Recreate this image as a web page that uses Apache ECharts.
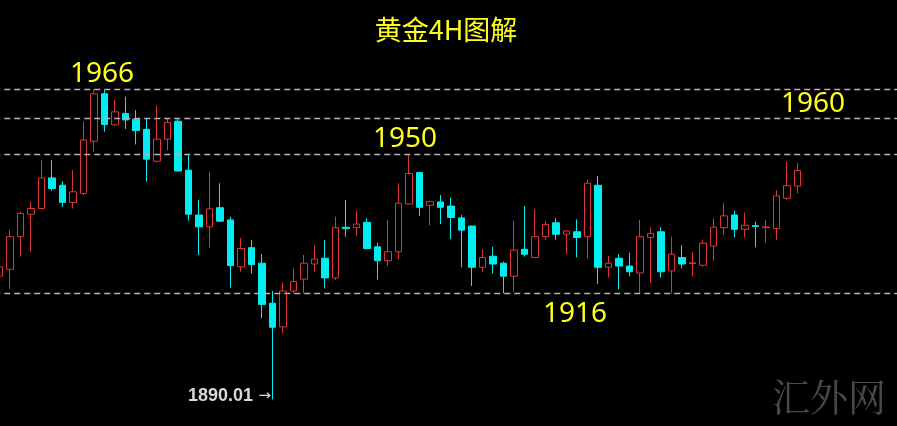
<!DOCTYPE html>
<html>
<head>
<meta charset="utf-8">
<script src="https://cdn.jsdelivr.net/npm/echarts@6/dist/echarts.min.js"></script>
<style>html,body{margin:0;padding:0;background:#000;}#c{width:897px;height:426px;}</style>
</head>
<body>
<div id="c"></div>
<script>
// 4H gold candles: [open, close, low, high]
const candles = [
  [1920.2, 1922.5, 1919.3, 1924.9],
  [1921.9, 1929.9, 1917.1, 1931.5],
  [1929.9, 1935.6, 1925.0, 1936.0],
  [1935.4, 1936.8, 1926.2, 1938.5],
  [1936.8, 1944.3, 1936.6, 1948.7],
  [1944.3, 1941.7, 1941.1, 1948.7],
  [1942.5, 1938.3, 1937.2, 1943.5],
  [1938.3, 1940.9, 1936.8, 1946.2],
  [1940.5, 1953.6, 1940.1, 1958.1],
  [1953.3, 1964.9, 1950.7, 1966.0],
  [1964.9, 1957.4, 1955.6, 1965.8],
  [1957.3, 1960.5, 1957.1, 1963.4],
  [1960.1, 1958.5, 1956.3, 1964.2],
  [1958.7, 1955.9, 1952.5, 1960.9],
  [1956.2, 1948.9, 1943.4, 1958.9],
  [1948.4, 1953.8, 1948.1, 1962.0],
  [1953.8, 1957.9, 1951.1, 1958.9],
  [1958.2, 1946.0, 1945.9, 1958.9],
  [1946.2, 1935.4, 1933.8, 1950.1],
  [1935.2, 1932.3, 1925.4, 1938.9],
  [1932.3, 1936.7, 1927.2, 1945.8],
  [1937.0, 1933.7, 1933.5, 1943.0],
  [1934.0, 1922.8, 1917.4, 1934.8],
  [1922.5, 1927.0, 1921.3, 1929.6],
  [1927.2, 1923.1, 1920.9, 1929.1],
  [1923.4, 1913.3, 1909.9, 1925.6],
  [1913.6, 1907.7, 1890.01, 1916.6],
  [1907.8, 1916.6, 1906.2, 1918.7],
  [1916.6, 1918.9, 1916.0, 1922.1],
  [1919.5, 1923.4, 1916.0, 1925.4],
  [1923.2, 1924.4, 1921.3, 1927.8],
  [1924.6, 1919.8, 1917.2, 1929.1],
  [1919.8, 1932.1, 1919.3, 1934.8],
  [1932.2, 1931.9, 1929.9, 1938.9],
  [1932.1, 1933.0, 1930.0, 1936.3],
  [1933.4, 1927.0, 1926.8, 1934.4],
  [1927.4, 1924.0, 1919.4, 1928.4],
  [1924.0, 1926.2, 1922.7, 1934.0],
  [1926.2, 1938.1, 1924.3, 1943.0],
  [1937.9, 1945.4, 1937.8, 1950.0],
  [1945.6, 1937.1, 1935.0, 1945.8],
  [1937.6, 1938.5, 1932.7, 1938.7],
  [1938.4, 1937.1, 1933.0, 1940.1],
  [1937.4, 1934.6, 1929.3, 1939.5],
  [1934.5, 1931.5, 1922.4, 1935.2],
  [1932.5, 1922.4, 1917.8, 1932.6],
  [1922.4, 1924.8, 1921.3, 1926.8],
  [1925.1, 1923.2, 1920.9, 1927.4],
  [1923.4, 1920.2, 1916.0, 1923.8],
  [1920.2, 1926.6, 1916.4, 1933.8],
  [1926.8, 1925.6, 1925.0, 1937.4],
  [1924.8, 1929.9, 1924.6, 1936.6],
  [1929.9, 1932.9, 1929.1, 1933.8],
  [1933.3, 1930.5, 1929.1, 1934.4],
  [1930.5, 1931.3, 1925.6, 1931.5],
  [1931.1, 1929.7, 1924.8, 1934.1],
  [1929.9, 1943.0, 1924.6, 1943.9],
  [1942.5, 1922.4, 1918.3, 1944.8],
  [1922.4, 1923.4, 1919.9, 1925.1],
  [1924.6, 1922.7, 1917.0, 1925.6],
  [1922.7, 1921.3, 1920.2, 1926.0],
  [1921.0, 1929.9, 1916.0, 1934.0],
  [1929.7, 1930.7, 1918.5, 1932.2],
  [1931.1, 1921.3, 1919.9, 1932.2],
  [1921.5, 1925.6, 1916.0, 1929.9],
  [1924.8, 1923.2, 1922.1, 1927.8],
  [1923.3, 1923.5, 1920.1, 1926.2],
  [1922.9, 1928.3, 1922.5, 1929.2],
  [1927.6, 1932.2, 1924.0, 1934.4],
  [1932.1, 1935.0, 1930.3, 1938.1],
  [1935.2, 1931.7, 1929.7, 1936.3],
  [1931.7, 1932.7, 1929.7, 1935.8],
  [1932.6, 1932.4, 1927.3, 1933.6],
  [1932.1, 1932.3, 1928.4, 1934.0],
  [1931.9, 1939.9, 1929.1, 1941.3],
  [1939.3, 1942.4, 1939.0, 1948.3],
  [1942.3, 1946.1, 1940.5, 1947.9]
];
// horizontal dashed levels (as drawn)
const levels = [1966.0, 1958.9, 1950.0, 1916.0];
// annotation texts
const titleText = '黄金4H图解';
const levelLabels = ['1966', '1950', '1960', '1916'];
const lowLabel = '1890.01';
const watermark = '汇外网';

// category slots (extra empty slots to the right edge)
const emptySlots = 9;
const categories = candles.map((_, i) => 'K' + (i + 1)).concat(new Array(emptySlots).fill(''));

const chart = echarts.init(document.getElementById('c'), null, {renderer: 'canvas'});
const yellow = '#ffff1a';
const labelFont = '28px "Noto Sans", "DejaVu Sans", sans-serif';
chart.setOption({
  backgroundColor: '#000',
  animation: false,
  grid: {left: -5.75, right: 0, top: 0, bottom: 0, containLabel: false, outerBoundsMode: 'none'},
  xAxis: {
    type: 'category', data: categories, boundaryGap: true,
    axisLine: {show: false}, axisTick: {show: false}, axisLabel: {show: false}, splitLine: {show: false}
  },
  yAxis: {
    type: 'value', min: 1883.5, max: 1987.9, scale: true,
    axisLine: {show: false}, axisTick: {show: false}, axisLabel: {show: false}, splitLine: {show: false}
  },
  series: [{
    type: 'candlestick',
    data: candles,
    barWidth: 7,
    clip: false,
    itemStyle: {
      color: '#000', color0: '#00eef2',
      borderColor: '#dd3535', borderColor0: '#00eef2', borderWidth: 1
    },
    markLine: {
      silent: true, symbol: 'none', animation: false,
      label: {show: false},
      lineStyle: {type: [6, 4], color: '#b4b4b4', width: 1.3},
      data: levels.map(v => ({yAxis: v}))
    }
  }],
  graphic: [
    {type: 'text', x: 446, y: 30, style: {text: titleText, fill: yellow, font: '27px "Noto Sans CJK SC", sans-serif', align: 'center', verticalAlign: 'middle'}},
    {type: 'text', x: 102, y: 74, style: {text: levelLabels[0], fill: yellow, font: labelFont, align: 'center', verticalAlign: 'middle'}},
    {type: 'text', x: 405, y: 139, style: {text: levelLabels[1], fill: yellow, font: labelFont, align: 'center', verticalAlign: 'middle'}},
    {type: 'text', x: 813, y: 104, style: {text: levelLabels[2], fill: yellow, font: labelFont, align: 'center', verticalAlign: 'middle'}},
    {type: 'text', x: 575, y: 314, style: {text: levelLabels[3], fill: yellow, font: labelFont, align: 'center', verticalAlign: 'middle'}},
    {type: 'text', x: 253, y: 396, style: {text: lowLabel, fill: '#d8d8d8', font: 'bold 18px "Liberation Sans", Arial, sans-serif', align: 'right', verticalAlign: 'middle'}},
    {type: 'text', x: 271, y: 396, style: {text: '→', fill: '#d8d8d8', font: '15px "DejaVu Sans", sans-serif', align: 'right', verticalAlign: 'middle'}},
    {type: 'text', x: 829, y: 397, style: {text: watermark, fill: '#4a4a4a', font: '38px "Noto Serif CJK SC", "Noto Sans CJK SC", serif', align: 'center', verticalAlign: 'middle'}}
  ]
});
</script>
</body>
</html>
